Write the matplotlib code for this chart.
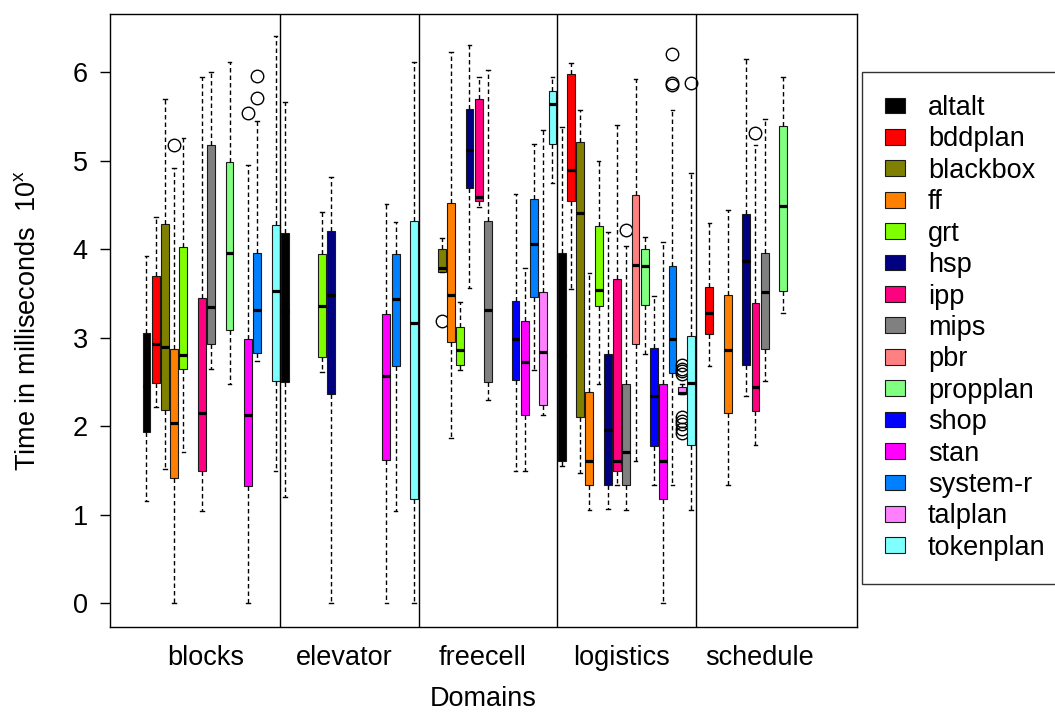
import matplotlib
matplotlib.use("Agg")
import matplotlib.pyplot as plt
from matplotlib.patches import Patch

plt.rcParams['font.family'] = ['Liberation Sans', 'DejaVu Sans']
plt.rcParams['mathtext.fontset'] = 'custom'
plt.rcParams['mathtext.rm'] = 'Liberation Sans'
plt.rcParams['mathtext.it'] = 'Liberation Sans'

planners = ['altalt', 'bddplan', 'blackbox', 'ff', 'grt', 'hsp', 'ipp', 'mips',
            'pbr', 'propplan', 'shop', 'stan', 'system-r', 'talplan', 'tokenplan']
colors = ['#000000', '#FF0000', '#808000', '#FF8000', '#80FF00', '#000080', '#FF0080',
          '#808080', '#FF8080', '#80FF80', '#0000FF', '#FF00FF', '#0080FF', '#FF80FF',
          '#80FFFF']
domains = ['blocks', 'elevator', 'freecell', 'logistics', 'schedule']

# (planner, lower whisker, q1, median, q3, upper whisker)
blocks = [
    ('altalt', 1.15, 1.93, 2.45, 3.05, 3.92),
    ('bddplan', 2.21, 2.49, 2.93, 3.70, 4.36),
    ('blackbox', 1.52, 2.18, 2.89, 4.28, 5.69),
    ('ff', 0.00, 1.41, 2.04, 2.87, 4.92),
    ('grt', 1.71, 2.65, 2.80, 4.02, 5.25),
    ('ipp', 1.04, 1.49, 2.15, 3.45, 5.94),
    ('mips', 2.65, 2.93, 3.35, 5.17, 6.00),
    ('propplan', 2.48, 3.08, 3.95, 4.98, 6.11),
    ('stan', 0.00, 1.32, 2.12, 2.98, 4.95),
    ('system-r', 2.73, 2.82, 3.31, 3.96, 5.45),
    ('tokenplan', 1.49, 2.51, 3.53, 4.27, 6.41),
]
blocks_out = {'ff': [5.18], 'stan': [5.54], 'system-r': [5.95, 5.71]}

elevator = [
    ('altalt', 1.20, 2.50, 3.30, 4.18, 5.66),
    ('grt', 2.61, 2.78, 3.36, 3.94, 4.42),
    ('hsp', 0.00, 2.36, 3.48, 4.20, 4.81),
    ('stan', 0.00, 1.62, 2.56, 3.27, 4.51),
    ('system-r', 1.04, 2.68, 3.43, 3.94, 4.30),
    ('tokenplan', 0.00, 1.18, 3.16, 4.32, 6.11),
]
elevator_out = {}

freecell = [
    ('blackbox', 3.74, 3.74, 3.79, 4.00, 4.12),
    ('ff', 1.86, 2.95, 3.48, 4.52, 6.23),
    ('grt', 2.63, 2.69, 2.86, 3.12, 3.40),
    ('hsp', 3.56, 4.69, 5.12, 5.58, 6.31),
    ('ipp', 4.48, 4.54, 4.59, 5.70, 5.94),
    ('mips', 2.29, 2.50, 3.31, 4.32, 6.02),
    ('shop', 1.49, 2.52, 2.98, 3.41, 4.62),
    ('stan', 1.49, 2.12, 2.72, 3.19, 3.78),
    ('system-r', 2.63, 3.46, 4.06, 4.57, 5.19),
    ('talplan', 2.12, 2.24, 2.84, 3.52, 5.34),
    ('tokenplan', 4.75, 5.19, 5.64, 5.79, 5.94),
]
freecell_out = {'blackbox': [3.19]}

logistics = [
    ('altalt', 1.55, 1.61, 2.80, 3.95, 5.38),
    ('bddplan', 3.55, 4.54, 4.89, 5.98, 6.10),
    ('blackbox', 1.47, 2.10, 4.41, 5.21, 5.57),
    ('ff', 1.05, 1.33, 1.61, 2.38, 3.73),
    ('grt', 2.48, 3.36, 3.54, 4.26, 4.99),
    ('hsp', 1.06, 1.33, 1.95, 2.81, 4.19),
    ('ipp', 1.33, 1.49, 1.61, 3.66, 5.40),
    ('mips', 1.05, 1.33, 1.71, 2.47, 4.03),
    ('pbr', 1.61, 2.93, 3.82, 4.61, 5.92),
    ('propplan', 2.81, 3.37, 3.81, 4.00, 4.14),
    ('shop', 1.33, 1.78, 2.34, 2.88, 3.47),
    ('stan', 0.00, 1.18, 1.61, 2.47, 4.08),
    ('system-r', 1.33, 2.60, 2.98, 3.81, 5.57),
    ('talplan', 2.36, 2.36, 2.37, 2.44, 2.48),
    ('tokenplan', 1.05, 1.79, 2.49, 3.02, 4.86),
]
logistics_out = {'mips': [4.21], 'system-r': [6.20, 5.87, 5.85],
                 'talplan': [2.69, 2.65, 2.62, 2.59, 2.10, 2.06, 2.02, 1.97, 1.92],
                 'tokenplan': [5.87]}

schedule = [
    ('bddplan', 2.68, 3.04, 3.28, 3.57, 4.29),
    ('ff', 1.33, 2.15, 2.86, 3.48, 4.44),
    ('hsp', 2.34, 2.69, 3.87, 4.40, 6.15),
    ('ipp', 1.79, 2.17, 2.44, 3.39, 5.17),
    ('mips', 2.51, 2.87, 3.51, 3.96, 5.47),
    ('propplan', 3.28, 3.53, 4.49, 5.39, 5.94),
]
schedule_out = {'ipp': [5.31]}

all_data = [(blocks, blocks_out), (elevator, elevator_out), (freecell, freecell_out),
            (logistics, logistics_out), (schedule, schedule_out)]

fs = 19.5
fig = plt.figure(figsize=(10.55, 7.15), dpi=100)
ax = fig.add_axes([110 / 1055, 1 - 627 / 715, 747 / 1055, 613 / 715])

nslot = len(planners)
for d, (rows, outs) in enumerate(all_data):
    for name, lo, q1, med, q3, hi in rows:
        k = planners.index(name)
        pos = d * nslot + k + 1
        st = dict(whislo=lo, q1=q1, med=med, q3=q3, whishi=hi, fliers=outs.get(name, []))
        ax.bxp([st], positions=[pos], widths=0.85, capwidths=0.4, patch_artist=True,
               boxprops=dict(facecolor=colors[k], edgecolor='#1a1a1a', linewidth=0.8),
               medianprops=dict(color='black', linewidth=2.3, solid_capstyle='butt'),
               whiskerprops=dict(color='black', linewidth=1.0, linestyle=(0, (3.2, 2.2))),
               capprops=dict(color='black', linewidth=1.0),
               flierprops=dict(marker='o', markerfacecolor='none', markeredgecolor='black',
                               markersize=9, markeredgewidth=1.0))

for d in range(1, len(domains)):
    ax.axvline(d * nslot + 0.5, color='black', linewidth=1.0)

ax.set_xlim(-2.95, 78.0)
ax.set_ylim(-0.27, 6.655)
ax.set_xticks([d * nslot + 7.45 for d in range(len(domains))])
ax.set_xticklabels(domains, fontsize=fs)
ax.tick_params(axis='x', length=0, pad=13)
ax.set_yticks(range(7))
ax.tick_params(axis='y', labelsize=fs, length=7, width=1, pad=9)
for s in ax.spines.values():
    s.set_linewidth(1.0)

fig.text(483.5 / 1055, 1 - 706 / 715, 'Domains', fontsize=fs, ha='center', va='baseline')
fig.text(28 / 1055, 1 - 321 / 715, r'Time in milliseconds  $\mathregular{10^x}$',
         fontsize=fs, rotation=90, ha='center', va='center')

handles = [Patch(facecolor=c, edgecolor='#1a1a1a', linewidth=0.8) for c in colors]
fig.legend(handles, planners, loc='upper left', bbox_to_anchor=(862 / 1055, 1 - 72 / 715),
           fontsize=fs, frameon=True, fancybox=False, edgecolor='black',
           borderaxespad=0, borderpad=0.85, handlelength=0.74, handleheight=0.52,
           handletextpad=0.85, labelspacing=0.2)
fig.legends[0].get_frame().set_linewidth(1.0)

fig.savefig('out.png', dpi=100)
